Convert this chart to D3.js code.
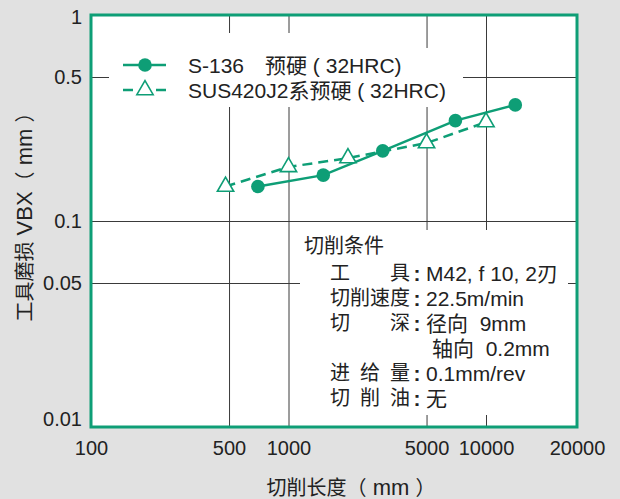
<!DOCTYPE html>
<html>
<head>
<meta charset="utf-8">
<script src="https://cdn.jsdelivr.net/npm/d3@7"></script>
<style>
  html, body { margin: 0; padding: 0; background: #e1e1e1; }
  svg { display: block; font-family: "Liberation Sans", Arial, "Noto Sans CJK SC", sans-serif; }
  .axis path { display: none; }
  .axis line { stroke: #3a3a3a; stroke-width: 1; }
  .axis text { fill: #222; font-size: 20px; }
</style>
</head>
<body>
<svg id="chart" width="620" height="499"></svg>
<script>
// 数据
const s136Length = [700, 1500, 3000, 7000, 12500];
const s136Wear = [0.147, 0.167, 0.219, 0.307, 0.366];
const susLength = [480, 1000, 2000, 5000, 10000];
const susWear = [0.147, 0.183, 0.202, 0.239, 0.302];

const xTicks = [100, 500, 1000, 5000, 10000, 20000];
const yTicks = [0.01, 0.05, 0.1, 0.5, 1];
const xGrid = [500, 1000, 5000, 10000];
const yGrid = [0.05, 0.1, 0.5];

const legendNames = ["S-136\u3000预硬\u00a0(\u00a032HRC)", "SUS420J2系预硬\u00a0(\u00a032HRC)"];
const conditions = [
  ["工\u3000\u3000具", "M42, f 10, 2刃"],
  ["切削速度", "22.5m/min"],
  ["切\u3000\u3000深", "径向\u00a0\u00a09mm"],
  ["", "轴向\u00a0\u00a00.2mm"],
  ["进 给 量", "0.1mm/rev"],
  ["切 削 油", "无"]
];

const green = "#0e9e76";
const plotL = 91, plotT = 15, plotR = 577, plotB = 427;

const svg = d3.select("#chart");

// 横轴: 右端标为 20000
const x = d3.scaleLog().domain([100, 10000, 20000]).range([plotL, 486, plotR]);
const y = d3.scaleLog().domain([0.01, 1]).range([plotB, plotT]);

// 绘图区
svg.append("rect")
  .attr("x", plotL).attr("y", plotT)
  .attr("width", plotR - plotL).attr("height", plotB - plotT)
  .attr("fill", "#fff");

// 网格线
svg.append("g")
  .attr("class", "axis")
  .attr("transform", `translate(0,${plotB})`)
  .call(d3.axisBottom(x).tickValues(xGrid).tickSize(-(plotB - plotT)).tickFormat(""));
svg.append("g")
  .attr("class", "axis")
  .attr("transform", `translate(${plotL},0)`)
  .call(d3.axisLeft(y).tickValues(yGrid).tickSize(-(plotR - plotL)).tickFormat(""));

// 图例背景 / 条件框
svg.append("rect").attr("x", 109).attr("y", 33).attr("width", 312).attr("height", 74).attr("fill", "#fff");
svg.append("rect").attr("x", 109).attr("y", 48).attr("width", 354).attr("height", 59).attr("fill", "#fff");
svg.append("rect").attr("x", 300).attr("y", 230).attr("width", 268).attr("height", 185).attr("fill", "#fff");

// 刻度标签
svg.append("g")
  .attr("class", "axis")
  .attr("transform", `translate(0,${plotB})`)
  .call(d3.axisBottom(x).tickValues(xTicks).tickSize(0).tickPadding(14).tickFormat(d3.format("d")));
const yAxis = svg.append("g")
  .attr("class", "axis")
  .attr("transform", `translate(${plotL},0)`)
  .call(d3.axisLeft(y).tickValues(yTicks).tickSize(0).tickPadding(9).tickFormat(d => String(d)));
yAxis.selectAll(".tick").filter(d => d === 1).select("text").attr("dy", "0.4em");
yAxis.selectAll(".tick").filter(d => d === 0.01).select("text").attr("dy", "-0.1em");

// 边框
svg.append("rect")
  .attr("x", plotL).attr("y", plotT)
  .attr("width", plotR - plotL).attr("height", plotB - plotT)
  .attr("fill", "none").attr("stroke", green).attr("stroke-width", 3);

// 线条
const line = d3.line().x(d => x(d[0])).y(d => y(d[1]));
const s136 = s136Length.map((v, i) => [v, s136Wear[i]]);
const sus = susLength.map((v, i) => [v, susWear[i]]);

svg.append("path").datum(sus)
  .attr("d", line).attr("fill", "none")
  .attr("stroke", green).attr("stroke-width", 2.5).attr("stroke-dasharray", "10,6");
svg.append("path").datum(s136)
  .attr("d", line).attr("fill", "none")
  .attr("stroke", green).attr("stroke-width", 2.5);

const tri = d3.symbol().type(d3.symbolTriangle).size(115);
svg.append("g").selectAll("path")
  .data(sus).enter().append("path")
  .attr("d", tri)
  .attr("transform", d => `translate(${x(d[0])},${y(d[1])})`)
  .attr("fill", "#fff").attr("stroke", green).attr("stroke-width", 1.6);
svg.append("g").selectAll("circle")
  .data(s136).enter().append("circle")
  .attr("cx", d => x(d[0])).attr("cy", d => y(d[1])).attr("r", 6.8)
  .attr("fill", green);

// 图例
const lg = svg.append("g").style("font-size", "21px").attr("fill", "#222");
lg.append("line").attr("x1", 123).attr("x2", 166).attr("y1", 65).attr("y2", 65)
  .attr("stroke", green).attr("stroke-width", 2.5);
lg.append("circle").attr("cx", 145).attr("cy", 65).attr("r", 6.8).attr("fill", green);
lg.append("line").attr("x1", 123).attr("x2", 166).attr("y1", 90).attr("y2", 90)
  .attr("stroke", green).attr("stroke-width", 2.5).attr("stroke-dasharray", "10,23");
lg.append("path").attr("d", tri).attr("transform", "translate(145,90)")
  .attr("fill", "#fff").attr("stroke", green).attr("stroke-width", 1.6);
legendNames.forEach((name, i) => {
  lg.append("text").attr("x", 188).attr("y", 65 + i * 25).attr("dy", "0.36em").text(name);
});

// 切削条件
const cg = svg.append("g").style("font-size", "20px").attr("fill", "#222");
cg.append("text").attr("x", 304).attr("y", 246).attr("dy", "0.36em").text("切削条件");
conditions.forEach((row, i) => {
  const yy = 273 + i * 25;
  if (row[0]) {
    cg.append("text").attr("x", 330).attr("y", yy).attr("dy", "0.36em")
      .attr("textLength", 80).text(row[0]);
    cg.append("text").attr("x", 417).attr("y", yy).attr("dy", "0.36em")
      .attr("text-anchor", "middle").style("font-weight", "bold").style("font-size", "21px").text(":");
  }
  cg.append("text").attr("x", row[0] ? 426 : 432).attr("y", yy).attr("dy", "0.36em")
    .style("font-size", "21px").text(row[1]);
});

// 轴标题
const xt = svg.append("text")
  .attr("x", 351).attr("y", 488).attr("dy", "0.36em")
  .attr("text-anchor", "middle").style("font-size", "20px").attr("fill", "#222");
xt.append("tspan").text("切削长度（");
xt.append("tspan").style("font-size", "22px").text("\u00a0mm\u00a0");
xt.append("tspan").text("）");

const yt = svg.append("text")
  .attr("transform", "translate(25,212) rotate(-90)")
  .attr("dy", "0.36em")
  .attr("text-anchor", "middle").style("font-size", "20px").attr("fill", "#222");
yt.append("tspan").text("工具磨损");
yt.append("tspan").style("font-size", "22px").text("\u00a0VBX");
yt.append("tspan").text("（");
yt.append("tspan").style("font-size", "22px").text("\u00a0mm\u00a0");
yt.append("tspan").text("）");
</script>
</body>
</html>
